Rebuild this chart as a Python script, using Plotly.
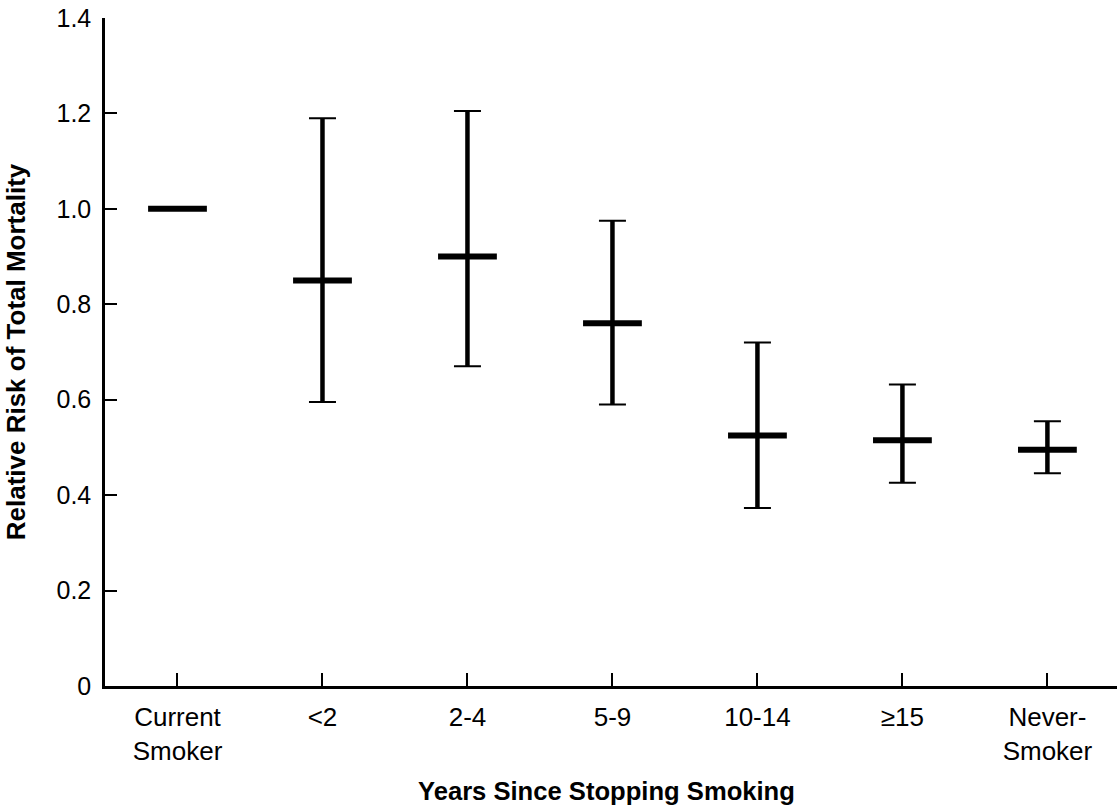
import plotly.graph_objects as go

categories = ["Current<br>Smoker", "<2", "2-4", "5-9", "10-14", "≥15", "Never-<br>Smoker"]
relative_risk = [1.00, 0.85, 0.90, 0.76, 0.525, 0.515, 0.495]
ci_upper = [None, 1.19, 1.205, 0.975, 0.72, 0.632, 0.555]
ci_lower = [None, 0.595, 0.67, 0.59, 0.373, 0.426, 0.446]
y_ticks = [0, 0.2, 0.4, 0.6, 0.8, 1.0, 1.2, 1.4]
y_tick_text = ["0", "0.2", "0.4", "0.6", "0.8", "1.0", "1.2", "1.4"]
x_title = "Years Since Stopping Smoking"
y_title = "Relative Risk of Total Mortality"

xpos = list(range(len(categories)))
idx = [i for i in xpos if ci_upper[i] is not None]
ex = [xpos[i] for i in idx]
ey = [relative_risk[i] for i in idx]
eplus = [ci_upper[i] - relative_risk[i] for i in idx]
eminus = [relative_risk[i] - ci_lower[i] for i in idx]

FONT = "Liberation Sans, Arial, sans-serif"

fig = go.Figure()
# thin caps
fig.add_trace(go.Scatter(
    x=ex, y=ey, mode="markers", marker=dict(size=1, color="rgba(0,0,0,0)"),
    error_y=dict(type="data", symmetric=False, array=eplus, arrayminus=eminus,
                 color="black", thickness=2, width=13.5),
    showlegend=False, hoverinfo="skip"))
# thick stems
fig.add_trace(go.Scatter(
    x=ex, y=ey, mode="markers", marker=dict(size=1, color="rgba(0,0,0,0)"),
    error_y=dict(type="data", symmetric=False, array=eplus, arrayminus=eminus,
                 color="black", thickness=4.5, width=0),
    showlegend=False, hoverinfo="skip"))
# point estimates as horizontal bars
fig.add_trace(go.Scatter(
    x=xpos, y=relative_risk, mode="markers",
    marker=dict(symbol="line-ew", size=42, line=dict(color="black", width=6)),
    showlegend=False))

fig.add_annotation(
    text=f"<b>{x_title}</b>", xref="paper", yref="paper", x=0.496, y=0,
    xanchor="center", yanchor="top", yshift=-89, showarrow=False,
    font=dict(family=FONT, size=25.6, color="black"))

fig.update_layout(
    template="none",
    width=1117, height=805,
    margin=dict(l=105, r=0, t=18, b=119, pad=0),
    paper_bgcolor="white", plot_bgcolor="white",
    font=dict(family=FONT, size=25, color="black"),
    xaxis=dict(
        automargin=False,
        range=[-0.5, 6.48], tickmode="array", tickvals=xpos, ticktext=categories,
        ticks="inside", ticklen=13, tickwidth=2, tickcolor="black",
        showline=True, linecolor="black", linewidth=2.5, showgrid=False, zeroline=False,
        tickfont=dict(family=FONT, size=26), ticklabelstandoff=6,
    ),
    yaxis=dict(
        automargin=True,
        range=[0, 1.4], tickmode="array", tickvals=y_ticks, ticktext=y_tick_text,
        ticks="inside", ticklen=12, tickwidth=2, tickcolor="black",
        showline=True, linecolor="black", linewidth=2.5, showgrid=False, zeroline=False,
        tickfont=dict(family=FONT, size=25), ticklabelstandoff=6,
        title=dict(text=f"<b>{y_title}</b>", font=dict(family=FONT, size=26),
                   standoff=24),
    ),
)

fig.write_html("out.html", config={"displayModeBar": False},
               post_script="document.body.style.margin='0';document.body.style.overflow='hidden';")
